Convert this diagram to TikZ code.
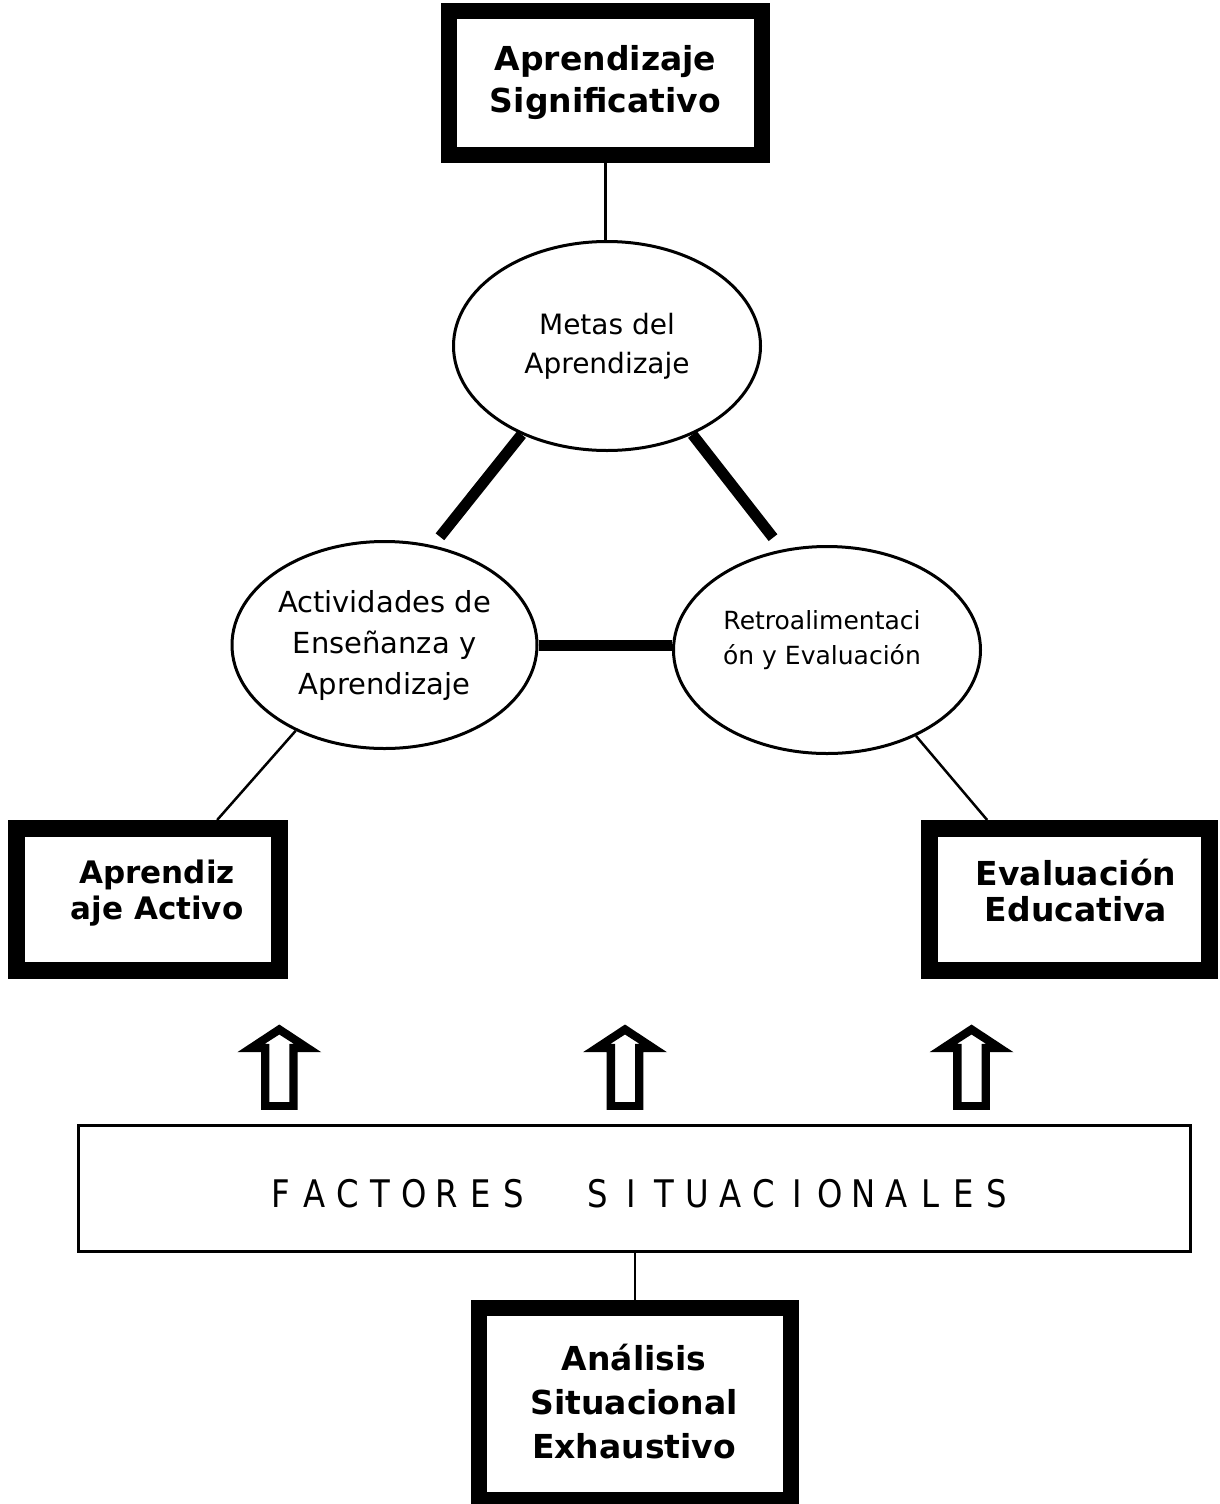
\documentclass[tikz,border=0pt]{standalone}
\usepackage{fontspec}
\setmainfont{DejaVu Sans}
\newfontfamily\factfont[FakeStretch=0.85]{DejaVu Sans}
\usetikzlibrary{shapes.geometric}
\newcommand\lsp[1]{\makebox[33.2pt]{#1}}
\begin{document}
\begin{tikzpicture}[x=1pt,y=-1pt,
  bigbox/.style={draw, rectangle, line width=16pt, inner sep=0pt},
  boxtext/.style={align=center, inner sep=0pt, font=\bfseries\fontsize{33}{42}\selectfont},
  ell/.style={draw, ellipse, line width=3pt, inner sep=0pt, align=center},
  thinlink/.style={line width=2.5pt},
  thicklink/.style={line width=11pt},
  hollowup/.pic={\fill[even odd rule]
      (0,0) -- (-42,27.7) -- (-18.3,27.7) -- (-18.3,85.3) -- (18.3,85.3) -- (18.3,27.7) -- (42,27.7) -- cycle
      (0,10) -- (-14.5,19.3) -- (-10,19.3) -- (-10,77.7) -- (10,77.7) -- (10,19.3) -- (14.5,19.3) -- cycle;}
]
\useasboundingbox[fill=white] (0,0) rectangle (1219,1504);

% boxes
\node[bigbox, boxtext, minimum width=313pt, minimum height=144pt] (as) at (605.5,83) {Aprendizaje\\Significativo};
\node[bigbox, line width=17pt, minimum width=263pt, minimum height=142pt] (aa) at (148,899.5) {};
\node[boxtext, font=\bfseries\fontsize{31}{36}\selectfont] (aaT) at (157,893) {Aprendiz\\aje Activo};
\node[bigbox, line width=17pt, minimum width=280pt, minimum height=142pt] (ee) at (1069.5,899.5) {};
\node[boxtext, font=\bfseries\fontsize{33}{36}\selectfont] (eeT) at (1076,891) {Evaluación\\Educativa};
\node[bigbox, minimum width=312pt, minimum height=192pt] (an) at (635,1404) {};
\node[boxtext, font=\bfseries\fontsize{33}{44}\selectfont] (anT) at (634,1402) {Análisis\\Situacional\\Exhaustivo};

% ellipses
\node[ell, minimum width=307pt, minimum height=209pt, font=\fontsize{28}{39}\selectfont] (metas) at (607,346) {Metas del\\Aprendizaje};
\node[ell, minimum width=305pt, minimum height=207pt, font=\fontsize{29}{41}\selectfont] (act) at (384.5,645) {Actividades de\\Enseñanza y\\Aprendizaje};
\node[ell, minimum width=307pt, minimum height=207pt] (retro) at (827,650) {};
\node[align=center, inner sep=0pt, font=\fontsize{25}{35}\selectfont] (retroT) at (822,640) {Retroalimentaci\\ón y Evaluación};

% factores
\node[draw, line width=3pt, minimum width=1112pt, minimum height=126pt, inner sep=0pt] (fs) at (634.5,1188.5) {};
\node[anchor=base west, inner sep=0pt, font=\factfont\fontsize{38}{40}\selectfont] (fsT) at (264.4,1207)
  {\lsp{F}\lsp{A}\lsp{C}\lsp{T}\lsp{O}\lsp{R}\lsp{E}\lsp{S}\hspace{51.4pt}\lsp{S}\lsp{I}\lsp{T}\lsp{U}\lsp{A}\lsp{C}\lsp{I}\lsp{O}\lsp{N}\lsp{A}\lsp{L}\lsp{E}\lsp{S}};

% connectors
\draw[thinlink] (as.south) -- (as.south |- metas.north);
\draw[thicklink, shorten >=11pt] (metas.-134.4) -- (act.64.7);
\draw[thicklink, shorten >=15pt] (metas.-46) -- (retro.114.3);
\draw[thicklink] (act.east) -- (act.east -| retro.west);
\draw[thinlink] (act.-136.7) -- (aa.49.9);
\draw[thinlink] (retro.-44.6) -- (ee.136.4);
\draw[thinlink] (fs.south -| an.north) -- (an.north);

% block arrows
\pic at (279.3,1024.5) {hollowup};
\pic at (625,1024.5) {hollowup};
\pic at (971.5,1024.5) {hollowup};
\end{tikzpicture}
\end{document}
